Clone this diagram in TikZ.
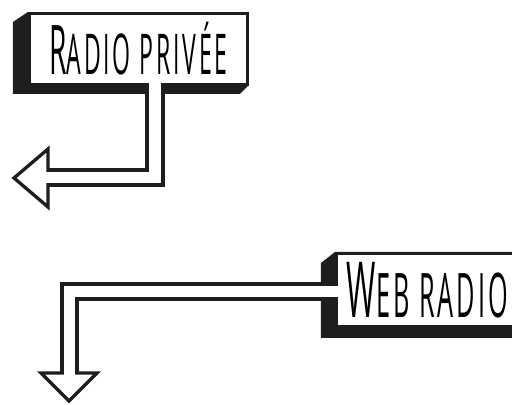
\documentclass[tikz,border=0pt]{standalone}
\usepackage{fontspec}
\newfontfamily\signfont[FakeStretch=0.41,LetterSpace=5]{Open Sans}
\usetikzlibrary{positioning}
\definecolor{InkBlack}{RGB}{30,30,30}
\newcommand{\SignCap}[2]{{\fontsize{#1}{#1}\selectfont #2}}

\begin{document}
\begin{tikzpicture}[x=0.02cm, y=-0.02cm,
    frame/.style={draw=InkBlack, fill=white, line width=1.8pt, inner sep=0pt, font=\signfont},
    shade3d/.style={fill=InkBlack},
    bandouter/.style={draw=InkBlack, line width=11pt, line join=miter},
    bandinner/.style={draw=white, line width=6.8pt, line join=miter},
    tiphead/.style={draw=InkBlack, fill=white, line width=1.9pt, line join=miter}]
  \useasboundingbox (0,0) rectangle (512,405);
  \clip (0,0) rectangle (512,405);
  % radio privee
  \fill[shade3d] (28,12) -- (13,22) -- (13,94) -- (240,94) -- (249,85) -- cycle;
  \node[frame, minimum width=4.36cm, minimum height=1.42cm] (privee) at (138.5,49)
    {\SignCap{39}{R}\SignCap{32}{ADIO PRIVÉE}};
  \coordinate (privee-out) at (155,86);
  \coordinate (privee-base) at (48,177.5);
  \draw[bandouter] (privee-out) |- (privee-base);
  \draw[tiphead] (14,178) -- (48,149) -- (48,207) -- cycle;
  \draw[bandinner] (155,78) |- (44,177.5);
  % web radio
  \fill[shade3d] (335,252) -- (321,263) -- (321,338) -- (520,338) -- (520,252) -- cycle;
  \node[frame, minimum width=3.64cm, minimum height=1.46cm] (webradio) at (427.5,290)
    {\SignCap{44}{W}\SignCap{35}{EB RADIO}};
  \coordinate (webradio-out) at (336,291.5);
  \coordinate (webradio-base) at (69.5,373);
  \draw[bandouter] (webradio-out) -| (webradio-base);
  \draw[tiphead] (69,401) -- (41,373) -- (97,373) -- cycle;
  \draw[bandinner] (342,291.5) -| (69.5,377);
\end{tikzpicture}
\end{document}
